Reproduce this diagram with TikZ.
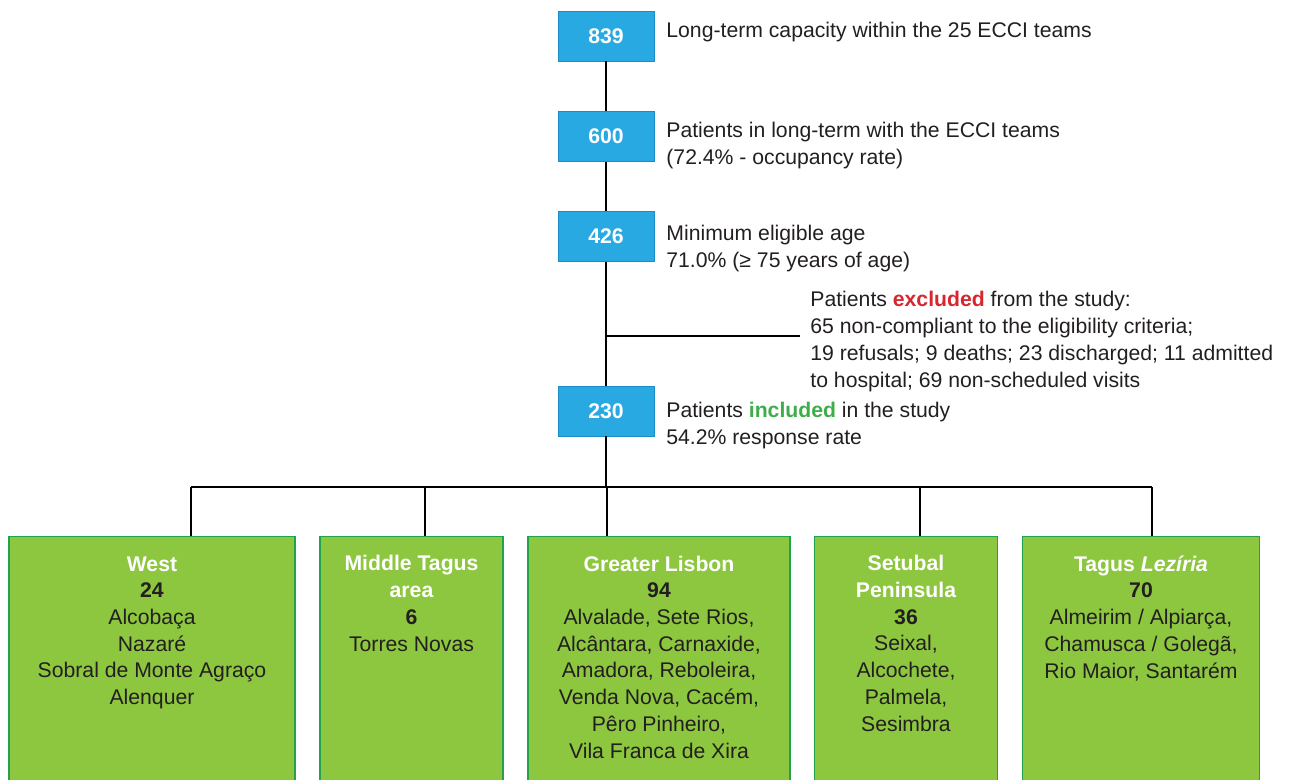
\documentclass[tikz,border=0pt]{standalone}
\usepackage{fontspec}
\setmainfont{Liberation Sans}
\usepackage{xcolor}
\usepackage{tikz}
\usetikzlibrary{positioning}

\definecolor{countblue}{HTML}{29A9E1}
\definecolor{countedge}{HTML}{1C8CC6}
\definecolor{regiongreen}{HTML}{8DC63F}
\definecolor{regionedge}{HTML}{23A24D}
\definecolor{exclred}{HTML}{D9262E}
\definecolor{inclgreen}{HTML}{3DAE49}
\definecolor{darktext}{HTML}{231F20}

\begin{document}
\begin{tikzpicture}
      [ x=0.5pt, y=-0.5pt,
        font=\fontsize{10.6}{13.35}\selectfont,
        count/.style={draw=countedge, fill=countblue, text=white,
          font=\fontsize{10.6}{13.35}\selectfont\bfseries,
          minimum width=48pt, minimum height=25pt, inner sep=0pt},
        note/.style={anchor=base west, align=left, inner sep=0pt, text=darktext},
        region/.style={draw=regionedge, fill=regiongreen, line width=0.7pt,
          anchor=north, minimum height=132pt, inner sep=0pt},
        regiontext/.style={anchor=base, align=center, inner sep=0pt, text=darktext},
        link/.style={line width=0.6pt}
      ]
      \useasboundingbox (0,0) rectangle (1290,780);

      % flow of patients (multi-line texts sit on their last baseline)
      \node[count] (n839) at (606,36)    {839};
      \node[count] (n600) at (606,136.5) {600};
      \node[count] (n426) at (606,236.5) {426};
      \node[count] (n230) at (606,411)   {230};

      \node[note] (t839) at (666,38)    {Long-term capacity within the 25 ECCI teams};
      \node[note] (t600) at (666,164.7) {Patients in long-term with the ECCI teams\\(72.4\% - occupancy rate)};
      \node[note] (t426) at (666,267.5) {Minimum eligible age\\71.0\% (≥ 75 years of age)};
      \node[note] (t230) at (666,444.7) {Patients \textcolor{inclgreen}{\bfseries included} in the study\\54.2\% response rate};
      \node[note] (texcl) at (810,387) {Patients \textcolor{exclred}{\bfseries excluded} from the study:\\
        65 non-compliant to the eligibility criteria;\\
        19 refusals; 9 deaths; 23 discharged; 11 admitted\\
        to hospital; 69 non-scheduled visits};

      \coordinate (excl) at (800,336);
      \coordinate (bus)  at (606,487);

      \draw[link] (n839) -- (n600);
      \draw[link] (n600) -- (n426);
      \draw[link] (n426) -- (n230);
      \draw[link] (n426.south |- excl) -- (excl);
      \draw[link] (n230) -- (bus);

      % regions
      \node[region, minimum width=143pt]   (west)    at (152,536)   {};
      \node[region, minimum width=91.5pt]  (middle)  at (411.5,536) {};
      \node[region, minimum width=131pt]   (lisbon)  at (659,536)   {};
      \node[region, minimum width=91.5pt]  (setubal) at (906,536)   {};
      \node[region, minimum width=118.5pt] (tagus)   at (1141,536)  {};

      \node[regiontext] (twest) at (152,704.5)
        {\textcolor{white}{\bfseries West}\\\textbf{24}\\Alcobaça\\Nazaré\\Sobral de Monte Agraço\\Alenquer};
      \node[regiontext] (tmiddle) at (411.5,651)
        {\textcolor{white}{\bfseries Middle Tagus}\\\textcolor{white}{\bfseries area}\\\textbf{6}\\Torres Novas};
      \node[regiontext] (tlisbon) at (659,758)
        {\textcolor{white}{\bfseries Greater Lisbon}\\\textbf{94}\\Alvalade, Sete Rios,\\Alcântara, Carnaxide,\\Amadora, Reboleira,\\Venda Nova, Cacém,\\Pêro Pinheiro,\\Vila Franca de Xira};
      \node[regiontext] (tsetubal) at (906,731)
        {\textcolor{white}{\bfseries Setubal}\\\textcolor{white}{\bfseries Peninsula}\\\textbf{36}\\Seixal,\\Alcochete,\\Palmela,\\Sesimbra};
      \node[regiontext] (ttagus) at (1141,678)
        {\textcolor{white}{\bfseries Tagus \itshape Lezíria}\\\textbf{70}\\Almeirim / Alpiarça,\\Chamusca / Golegã,\\Rio Maior, Santarém};

      \coordinate (dwest)    at (191,487);
      \coordinate (dtagus)   at (1152,487);
      \draw[link] (dwest) -- (dtagus);
      \foreach \name/\x in {west/191, middle/425, lisbon/607, setubal/920, tagus/1152}
        {
          \coordinate (d\name) at (\x,487);
          \draw[link] (d\name) -- (d\name |- \name.north);
        }
    \end{tikzpicture}
\end{document}
